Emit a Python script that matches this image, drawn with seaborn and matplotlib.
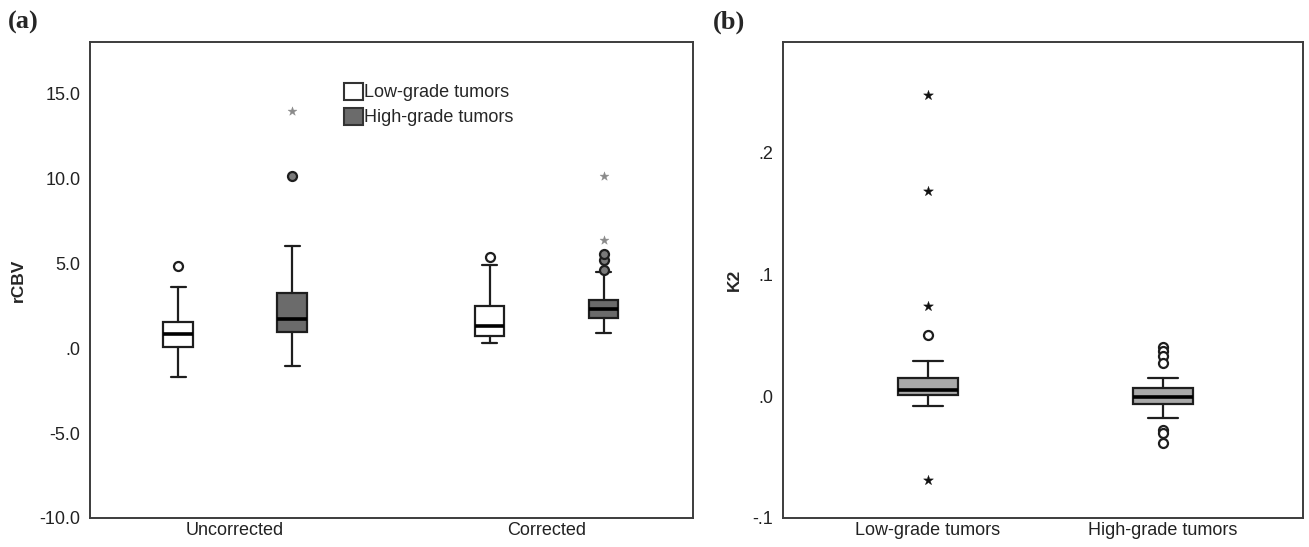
import numpy as np
import pandas as pd
import matplotlib
matplotlib.use("Agg")
import matplotlib.pyplot as plt
import seaborn as sns
from matplotlib.patches import Patch

# ---------------- data: panel (a) rCBV ----------------
corrections = ["Uncorrected", "Corrected"]
grades = ["Low-grade tumors", "High-grade tumors"]
# box order: (Uncorrected, Low), (Uncorrected, High), (Corrected, Low), (Corrected, High)
a_whislo = [-1.69, -1.06, 0.29, 0.86]
a_q1 = [0.04, 0.92, 0.69, 1.78]
a_med = [0.82, 1.72, 1.28, 2.28]
a_q3 = [1.55, 3.25, 2.45, 2.82]
a_whishi = [3.59, 6.02, 4.88, 4.45]
a_outliers = [[4.82], [10.12], [5.37], [4.59, 5.18, 5.53]]
a_extremes = [[], [13.94], [], [6.35, 10.13]]
a_yticks = [-10, -5, 0, 5, 10, 15]
a_yticklabels = ["-10.0", "-5.0", ".0", "5.0", "10.0", "15.0"]

# ---------------- data: panel (b) K2 ----------------
b_groups = ["Low-grade tumors", "High-grade tumors"]
b_whislo = [-0.008, -0.0178]
b_q1 = [0.0011, -0.0063]
b_med = [0.0049, -0.0006]
b_q3 = [0.0153, 0.0068]
b_whishi = [0.029, 0.015]
b_outliers = [[0.0504], [0.0405, 0.0372, 0.0331, 0.0274, -0.0277, -0.0301, -0.0384]]
b_extremes = [[0.2477, 0.1688, 0.0742, -0.0688], []]
b_yticks = [-0.1, 0.0, 0.1, 0.2]
b_yticklabels = ["-.1", ".0", ".1", ".2"]

sns.set_theme(style="white")
plt.rcParams["font.family"] = ["Liberation Sans", "DejaVu Sans"]

EDGE = "#1e1e1e"
SPINE = "#3c3c3c"
LOW_A = "#ffffff"
HIGH_A = "#6b6b6b"
FILL_B = "#a9a9a9"

fig = plt.figure(figsize=(13.09, 5.47), dpi=100)
axA = fig.add_axes([90 / 1309, 1 - 518 / 547, 603 / 1309, 476 / 547])
axB = fig.add_axes([783 / 1309, 1 - 518 / 547, 520 / 1309, 476 / 547])


def draw_boxes(ax, positions, width, whislo, q1, med, q3, whishi, faces):
    for i, pos in enumerate(positions):
        stats = [dict(whislo=whislo[i], q1=q1[i], med=med[i], q3=q3[i], whishi=whishi[i], fliers=[])]
        ax.bxp(stats, positions=[pos], widths=width, capwidths=width * 0.5,
               showfliers=False, patch_artist=True, manage_ticks=False,
               boxprops=dict(facecolor=faces[i], edgecolor=EDGE, linewidth=1.6),
               whiskerprops=dict(color=EDGE, linewidth=1.6),
               capprops=dict(color=EDGE, linewidth=1.6),
               medianprops=dict(color="#000000", linewidth=2.6, solid_capstyle="butt"),
               zorder=3)


def draw_points(ax, positions, outliers, extremes, circ_faces, star_color, star_size):
    rows_o, rows_e = [], []
    for i, pos in enumerate(positions):
        for v in outliers[i]:
            rows_o.append(dict(x=pos, y=v, face=circ_faces[i]))
        for v in extremes[i]:
            rows_e.append(dict(x=pos, y=v))
    do = pd.DataFrame(rows_o)
    for face, sub in do.groupby("face"):
        sns.scatterplot(data=sub, x="x", y="y", ax=ax, marker="o", s=42,
                        facecolor=face, edgecolor=EDGE, linewidth=1.6, zorder=4, legend=False)
    if rows_e:
        de = pd.DataFrame(rows_e)
        sns.scatterplot(data=de, x="x", y="y", ax=ax, marker="*", s=star_size,
                        color=star_color, edgecolor=star_color, linewidth=0.3, zorder=4, legend=False)


# ---------- panel (a) ----------
off = 0.183
posA = []
for g in range(len(corrections)):
    for h in range(len(grades)):
        posA.append(g + (-off if h == 0 else off))
facesA = [LOW_A, HIGH_A, LOW_A, HIGH_A]
draw_boxes(axA, posA, 0.095, a_whislo, a_q1, a_med, a_q3, a_whishi, facesA)
draw_points(axA, posA, a_outliers, a_extremes, ["#ffffff", "#7a7a7a", "#ffffff", "#7a7a7a"], "#8a8a8a", 45)

axA.set_xlim(-0.466, 1.47)
axA.set_ylim(-10, 18)
axA.set_xticks(range(len(corrections)))
axA.set_xticklabels(corrections)
axA.set_yticks(a_yticks)
axA.set_yticklabels(a_yticklabels)
axA.set_xlabel("")
axA.set_ylabel("rCBV", fontsize=12.5, fontweight="bold", labelpad=10)

legA = axA.legend(handles=[Patch(facecolor=LOW_A, edgecolor="#333333", linewidth=1.5),
                           Patch(facecolor=HIGH_A, edgecolor="#333333", linewidth=1.5)],
                  labels=grades, loc="upper left", bbox_to_anchor=(0.41, 0.93),
                  frameon=False, fontsize=13, handlelength=1.0, handleheight=1.1,
                  handletextpad=0.1, labelspacing=0.35, borderaxespad=0)

# ---------- panel (b) ----------
posB = list(range(len(b_groups)))
draw_boxes(axB, posB, 0.255, b_whislo, b_q1, b_med, b_q3, b_whishi, [FILL_B, FILL_B])
draw_points(axB, posB, b_outliers, b_extremes, ["#ffffff", "#ffffff"], "#111111", 55)

axB.set_xlim(-0.617, 1.596)
axB.set_ylim(-0.1, 0.291)
axB.set_xticks(posB)
axB.set_xticklabels(b_groups)
axB.set_yticks(b_yticks)
axB.set_yticklabels(b_yticklabels)
axB.set_xlabel("")
axB.set_ylabel("K2", fontsize=12.5, fontweight="bold", labelpad=8)

for ax in (axA, axB):
    for s in ax.spines.values():
        s.set_visible(True)
        s.set_color(SPINE)
        s.set_linewidth(1.4)
    ax.tick_params(axis="both", length=0, labelsize=13, colors="#222222")
    ax.tick_params(axis="y", pad=7)
    ax.tick_params(axis="x", pad=3)
    ax.grid(False)

fig.text(8 / 1309, 1 - 22 / 547, "(a)", fontsize=19, fontweight="bold",
         family=["Liberation Serif", "DejaVu Serif"], va="center", ha="left")
fig.text(713 / 1309, 1 - 22 / 547, "(b)", fontsize=19, fontweight="bold",
         family=["Liberation Serif", "DejaVu Serif"], va="center", ha="left")

fig.savefig("out.png", dpi=100)
